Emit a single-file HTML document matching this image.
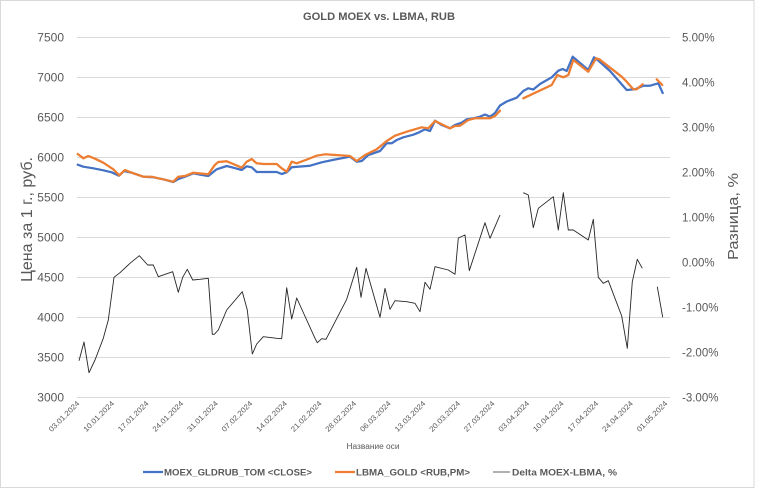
<!DOCTYPE html>
<html>
<head>
<meta charset="utf-8">
<style>
  html,body{margin:0;padding:0;background:#fff;}
  svg{display:block;}
  text{font-family:"Liberation Sans","Noto Sans CJK SC",sans-serif;fill:#595959;}
</style>
</head>
<body>
<svg width="758" height="489" viewBox="0 0 758 489" xmlns="http://www.w3.org/2000/svg">
  <rect x="0" y="0" width="758" height="489" fill="#fff"/>
  <rect x="0.5" y="0.5" width="753.5" height="487" fill="none" stroke="#d9d9d9" stroke-width="1"/>

  <!-- title -->
  <text x="379" y="20" text-anchor="middle" font-size="11" font-weight="bold" textLength="152" lengthAdjust="spacingAndGlyphs">GOLD MOEX vs. LBMA, RUB</text>

  <!-- gridlines -->
  <g stroke="#d9d9d9" stroke-width="1">
    <line x1="77" y1="37.5" x2="670" y2="37.5"/>
    <line x1="77" y1="77.5" x2="670" y2="77.5"/>
    <line x1="77" y1="117.5" x2="670" y2="117.5"/>
    <line x1="77" y1="157.5" x2="670" y2="157.5"/>
    <line x1="77" y1="197.5" x2="670" y2="197.5"/>
    <line x1="77" y1="237.5" x2="670" y2="237.5"/>
    <line x1="77" y1="277.5" x2="670" y2="277.5"/>
    <line x1="77" y1="317.5" x2="670" y2="317.5"/>
    <line x1="77" y1="357.5" x2="670" y2="357.5"/>
    <line x1="77" y1="397.5" x2="670" y2="397.5"/>
  </g>

  <!-- left axis labels -->
  <g font-size="12" text-anchor="end">
    <text x="64" y="41.5">7500</text>
    <text x="64" y="81.5">7000</text>
    <text x="64" y="121.5">6500</text>
    <text x="64" y="161.5">6000</text>
    <text x="64" y="201.5">5500</text>
    <text x="64" y="241.5">5000</text>
    <text x="64" y="281.5">4500</text>
    <text x="64" y="321.5">4000</text>
    <text x="64" y="361.5">3500</text>
    <text x="64" y="401.5">3000</text>
  </g>

  <!-- right axis labels -->
  <g font-size="11.5">
    <text x="682" y="41.5">5.00%</text>
    <text x="682" y="86.5">4.00%</text>
    <text x="682" y="131.5">3.00%</text>
    <text x="682" y="176.5">2.00%</text>
    <text x="682" y="221.5">1.00%</text>
    <text x="682" y="266.5">0.00%</text>
    <text x="682" y="311.5">-1.00%</text>
    <text x="682" y="356.5">-2.00%</text>
    <text x="682" y="401.5">-3.00%</text>
  </g>

  <!-- axis titles -->
  <text transform="translate(32,219.5) rotate(-90)" text-anchor="middle" font-size="15.5" textLength="125" lengthAdjust="spacingAndGlyphs">Цена за 1 г., руб.</text>
  <text transform="translate(738,216.5) rotate(-90)" text-anchor="middle" font-size="15" textLength="87" lengthAdjust="spacingAndGlyphs">Разница, %</text>
  <text x="373" y="449" text-anchor="middle" font-size="8" textLength="53" lengthAdjust="spacingAndGlyphs">Название оси</text>

  <!-- x tick labels -->
  <g font-size="7.5" text-anchor="end">
    <text transform="translate(80,404) rotate(-45)" textLength="40" lengthAdjust="spacingAndGlyphs">03.01.2024</text>
    <text transform="translate(114.6,404) rotate(-45)" textLength="40" lengthAdjust="spacingAndGlyphs">10.01.2024</text>
    <text transform="translate(149.2,404) rotate(-45)" textLength="40" lengthAdjust="spacingAndGlyphs">17.01.2024</text>
    <text transform="translate(183.8,404) rotate(-45)" textLength="40" lengthAdjust="spacingAndGlyphs">24.01.2024</text>
    <text transform="translate(218.4,404) rotate(-45)" textLength="40" lengthAdjust="spacingAndGlyphs">31.01.2024</text>
    <text transform="translate(252.9,404) rotate(-45)" textLength="40" lengthAdjust="spacingAndGlyphs">07.02.2024</text>
    <text transform="translate(287.5,404) rotate(-45)" textLength="40" lengthAdjust="spacingAndGlyphs">14.02.2024</text>
    <text transform="translate(322.1,404) rotate(-45)" textLength="40" lengthAdjust="spacingAndGlyphs">21.02.2024</text>
    <text transform="translate(356.7,404) rotate(-45)" textLength="40" lengthAdjust="spacingAndGlyphs">28.02.2024</text>
    <text transform="translate(391.3,404) rotate(-45)" textLength="40" lengthAdjust="spacingAndGlyphs">06.03.2024</text>
    <text transform="translate(425.9,404) rotate(-45)" textLength="40" lengthAdjust="spacingAndGlyphs">13.03.2024</text>
    <text transform="translate(460.5,404) rotate(-45)" textLength="40" lengthAdjust="spacingAndGlyphs">20.03.2024</text>
    <text transform="translate(495.1,404) rotate(-45)" textLength="40" lengthAdjust="spacingAndGlyphs">27.03.2024</text>
    <text transform="translate(529.7,404) rotate(-45)" textLength="40" lengthAdjust="spacingAndGlyphs">03.04.2024</text>
    <text transform="translate(564.3,404) rotate(-45)" textLength="40" lengthAdjust="spacingAndGlyphs">10.04.2024</text>
    <text transform="translate(598.8,404) rotate(-45)" textLength="40" lengthAdjust="spacingAndGlyphs">17.04.2024</text>
    <text transform="translate(633.4,404) rotate(-45)" textLength="40" lengthAdjust="spacingAndGlyphs">24.04.2024</text>
    <text transform="translate(668,404) rotate(-45)" textLength="40" lengthAdjust="spacingAndGlyphs">01.05.2024</text>
  </g>

  <!-- delta series -->
  <g fill="none" stroke="#262626" stroke-width="0.9" stroke-linejoin="round">
    <polyline points="79,360.7 84,342 89,372.7 95,360 103.3,338.3 108.3,320 114,277.3 120,272.7 130,263.3 139.3,255.7 147.7,265 153.3,265 158.3,276.7 172.7,271.7 178.3,292.3 182.7,277.3 187.3,269.3 192.7,280 200,279.3 208.3,278.3 212.3,334.3 214.3,334.3 218.3,330 226.7,310 242.3,291.7 247.3,310 252.3,354 256.7,344 263.3,336.7 276.7,338.3 281.7,338.7 286.7,287.7 291.7,319 296.7,298 315,338.3 317.3,342.7 321.7,338.7 326,339.3 331.7,328.3 346.7,299.3 356.7,267.3 361,297.3 366,268.3 380,317.3 385,288.3 390,309.3 395,300.7 406.7,301.7 415,303.3 420,311.7 425,282.3 430,289.3 435,266.7 448.3,270 455,274.3 458.3,238 465,235 469.3,270.7 485,222.7 490,238.3 495,226.7 500,215"/>
    <polyline points="523.3,192.7 528.3,195 533.3,227.7 538.3,208.3 553.3,196.7 558.3,230 563.3,192.7 568.3,230 573.3,230 588.3,240 593.3,219.3 598.3,277.3 603.3,283.3 608.3,280.7 621.7,316 627.3,348.3 632.3,281.7 637.3,259.3 642.3,268.3"/>
    <polyline points="657.3,286.7 662.7,317.3"/>
  </g>

  <!-- MOEX (blue) -->
  <polyline fill="none" stroke="#4472c4" stroke-width="2.25" stroke-linejoin="round" stroke-linecap="round" points="77.7,164.7 83.3,166.7 93.3,168.3 103.3,170.3 111.7,172.3 119,175.7 124,171 131.7,172.7 143.3,176.7 153.3,177.3 163.3,179.3 173.3,182 178.3,179 185,176.7 193.3,173.3 200,174.7 208.3,176 216.7,169.3 226.7,166 233.3,167.7 241.7,170 246.7,166.3 251.7,167.3 256.7,172 266.7,172 276.7,172 281.7,174 286.7,172.3 291.7,167.3 310,165.7 321.7,162.3 335,159.5 350,156.7 356.7,161.7 361.7,161 368.3,155 380,151 386.7,143.3 391.7,143.3 396.7,140 403.3,137.3 413.3,134.7 418.3,132.7 425,129.3 430,131 435,120.7 441.7,125 450,128.3 455,125 461.7,122.7 466.7,119.3 473.3,118.3 480,116.7 485,114.5 490,116.7 495,113 500,105.5 506.7,101.5 516.7,97.7 523.3,91 528.3,88.3 533.3,89.5 540,84 551.7,77.3 558.3,70.7 562.7,69 566.7,71 572.7,56.7 588.3,70 594,57.3 598.3,60.5 610,71 626.7,90 635,89.3 643.3,85.7 650,85.7 658.3,83.3 662.7,93"/>

  <!-- LBMA (orange) -->
  <g fill="none" stroke="#ed7d31" stroke-width="2.25" stroke-linejoin="round" stroke-linecap="round">
    <polyline points="77.7,154 83.3,158.3 88.3,156 95,158.7 103.3,162.7 113.3,169.3 119.3,175.3 125,170 131.7,172.7 143.3,176.7 151.7,176.7 158.3,178.3 163.3,179.3 173.3,181.7 178.3,176.7 185,176 193.3,172.7 203.3,173.7 208.3,174.3 215,164.7 218.3,162 226.7,161.3 233.3,164 241.7,167.7 246.7,161.7 251.7,159 256.7,163.3 263.3,164 276.7,164 281.7,168.3 286.7,171.7 291.7,161.7 296.7,163.3 308.3,159 316.7,155.7 325,154.3 350,156 356.7,161 365,155 376.7,149.3 386.7,141 395,135.7 406.7,131.7 421.7,127.3 428.3,128.3 435,121 441.7,124.3 450,128.3 455,126 460,125.7 468.3,120 475,118.3 490,118.3 495,116 500,110.7"/>
    <polyline points="523.3,98.3 551.7,85 557.3,75 563.3,77.3 568.3,75 573.3,60 588.3,71.7 596,58.3 599.3,59.3 621.7,76.7 626.7,81.7 633.3,89.3 636.7,89.3 642.7,84.3"/>
    <polyline points="656.7,79.3 662.3,85"/>
  </g>

  <!-- legend -->
  <line x1="143" y1="472" x2="163" y2="472" stroke="#4472c4" stroke-width="2.25"/>
  <text x="164" y="475.5" font-size="9.5" font-weight="bold" textLength="148" lengthAdjust="spacingAndGlyphs">MOEX_GLDRUB_TOM &lt;CLOSE&gt;</text>
  <line x1="335" y1="472" x2="355" y2="472" stroke="#ed7d31" stroke-width="2.25"/>
  <text x="356" y="475.5" font-size="9.5" font-weight="bold" textLength="114" lengthAdjust="spacingAndGlyphs">LBMA_GOLD &lt;RUB,PM&gt;</text>
  <line x1="493" y1="472" x2="510" y2="472" stroke="#808080" stroke-width="1.3"/>
  <text x="512" y="475.5" font-size="9.5" font-weight="bold" textLength="105" lengthAdjust="spacingAndGlyphs">Delta MOEX-LBMA, %</text>
</svg>
</body>
</html>
